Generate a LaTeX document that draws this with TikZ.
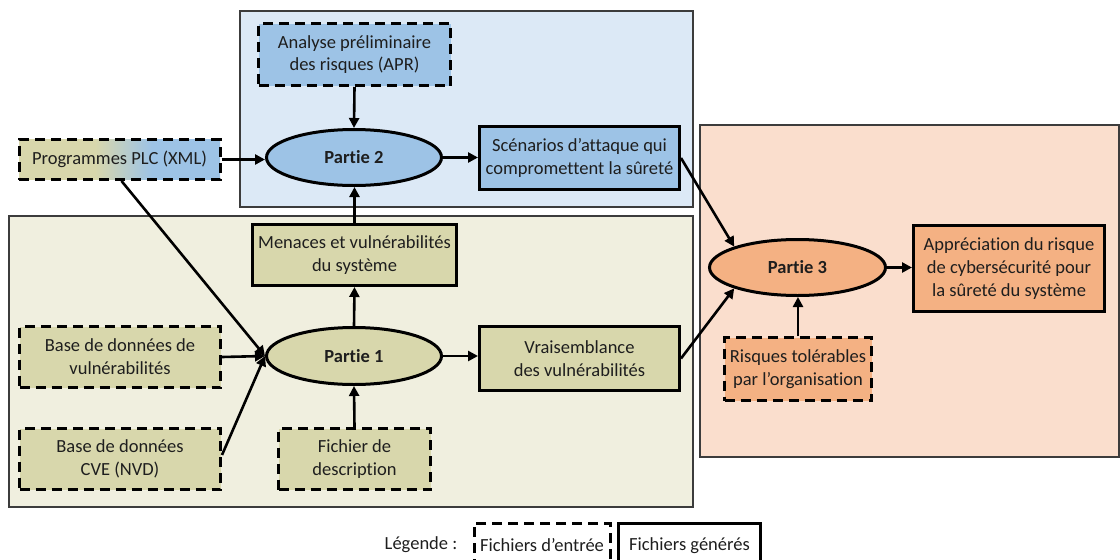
\documentclass[tikz,border=0pt]{standalone}
\usepackage{fontspec}
\setmainfont{Carlito}[Ligatures=NoCommon]
\usetikzlibrary{arrows.meta,shapes.geometric,calc}
\definecolor{bluefill}{RGB}{157,195,230}
\definecolor{bluebg}{RGB}{220,233,246}
\definecolor{olivefill}{RGB}{216,215,172}
\definecolor{olivebg}{RGB}{240,239,223}
\definecolor{orangefill}{RGB}{244,177,131}
\definecolor{orangebg}{RGB}{250,222,205}
\definecolor{txt}{RGB}{30,30,30}
\definecolor{regline}{RGB}{60,60,60}
\pgfdeclarehorizontalshading{plcshade}{100bp}{color(0bp)=(olivefill); color(44bp)=(olivefill); color(58bp)=(bluefill); color(100bp)=(bluefill)}
\tikzset{
  region/.style={draw=regline, line width=1.3pt},
  basebox/.style={rectangle, draw=black, line width=3pt, font=\fontsize{18.5}{22.8}\selectfont, text=txt, align=center, inner sep=0pt},
  inbox/.style={basebox, dash pattern=on 10pt off 6pt},
  genbox/.style={basebox},
  partie/.style={ellipse, draw=black, line width=3pt, font=\fontsize{18.5}{22.8}\selectfont\bfseries, text=txt, inner sep=0pt},
  arr/.style={draw=black, line width=2.6pt, -{Triangle[length=10pt,width=10pt]}},
  plain/.style={font=\fontsize{18.5}{22.8}\selectfont, text=txt, inner sep=0pt}
}
\begin{document}
\begin{tikzpicture}[x=1pt,y=-1pt]
\useasboundingbox (0,0) rectangle (1120,560);
% regions
\draw[region, fill=bluebg] (240,11) rectangle (693,207);
\draw[region, fill=olivebg] (9,216) rectangle (693,507);
\draw[region, fill=orangebg] (700,125) rectangle (1119,457);
% nodes
\node[inbox, shading=plcshade, minimum width=201, minimum height=40] (plc) at (119.5,159.5) {Programmes PLC (XML)};
\node[inbox, fill=bluefill, minimum width=192, minimum height=62] (apr) at (354.5,54.5) {Analyse préliminaire\\des risques (APR)};
\node[partie, fill=bluefill, minimum width=175, minimum height=56] (p2) at (354,157.5) {Partie 2};
\node[genbox, fill=bluefill, minimum width=200, minimum height=63] (scen) at (579.5,158) {Scénarios d’attaque qui\\compromettent la sûreté};
\node[genbox, fill=olivefill, minimum width=204, minimum height=61] (men) at (354.5,255) {Menaces et vulnérabilités\\du système};
\node[partie, fill=olivefill, minimum width=175, minimum height=57] (p1) at (354,356) {Partie 1};
\node[genbox, fill=olivefill, minimum width=200, minimum height=64] (vrai) at (579.5,358.5) {Vraisemblance\\des vulnérabilités};
\node[inbox, fill=olivefill, minimum width=201, minimum height=61] (bvul) at (120,357) {Base de données de\\vulnérabilités};
\node[inbox, fill=olivefill, minimum width=201, minimum height=61] (cve) at (120,459) {Base de données\\CVE (NVD)};
\node[inbox, fill=olivefill, minimum width=152, minimum height=61] (fich) at (354.5,459) {Fichier de\\description};
\node[partie, fill=orangefill, minimum width=176, minimum height=56] (p3) at (797.5,267.5) {Partie 3};
\node[genbox, fill=orangefill, minimum width=191, minimum height=86] (appr) at (1009,268.5) {Appréciation du risque\\de cybersécurité pour\\la sûreté du système};
\node[inbox, fill=orangefill, minimum width=147, minimum height=63] (risq) at (798,369) {Risques tolérables\\par l’organisation};
% legend
\node[plain] (leglab) at (421,545) {Légende :};
\node[inbox, fill=white, minimum width=136, minimum height=60, anchor=north] (leg1) at (542,521.5) {\raisebox{17pt}{Fichiers d’entrée}};
\node[genbox, fill=white, minimum width=142, minimum height=60, anchor=north] (leg2) at (689.5,521.5) {\raisebox{17pt}{Fichiers générés}};
% arrows
\draw[arr] (apr.south) -- (p2.north);
\draw[arr] (plc.east) -- (plc.east -| p2.west);
\draw[arr] (p2.east) -- (p2.east -| scen.west);
\draw[arr] (men.north) -- (men.north |- p2.south);
\draw[arr] (p1.north) -- (men.south);
\draw[arr] ($(plc.south)+(2,0)$) -- (p1.west);
\draw[arr] (bvul.east) -- (p1.west);
\draw[arr] ($(cve.east)+(0,-4)$) -- (p1.west);
\draw[arr] (fich.north) -- (p1.south);
\draw[arr] (p1.east) -- (p1.east -| vrai.west);
\draw[arr] (scen.east) -- (p3.north west);
\draw[arr] (vrai.east) -- (p3.south west);
\draw[arr] (risq.north) -- (risq.north |- p3.south);
\draw[arr] (p3.east) -- (p3.east -| appr.west);
\end{tikzpicture}
\end{document}
